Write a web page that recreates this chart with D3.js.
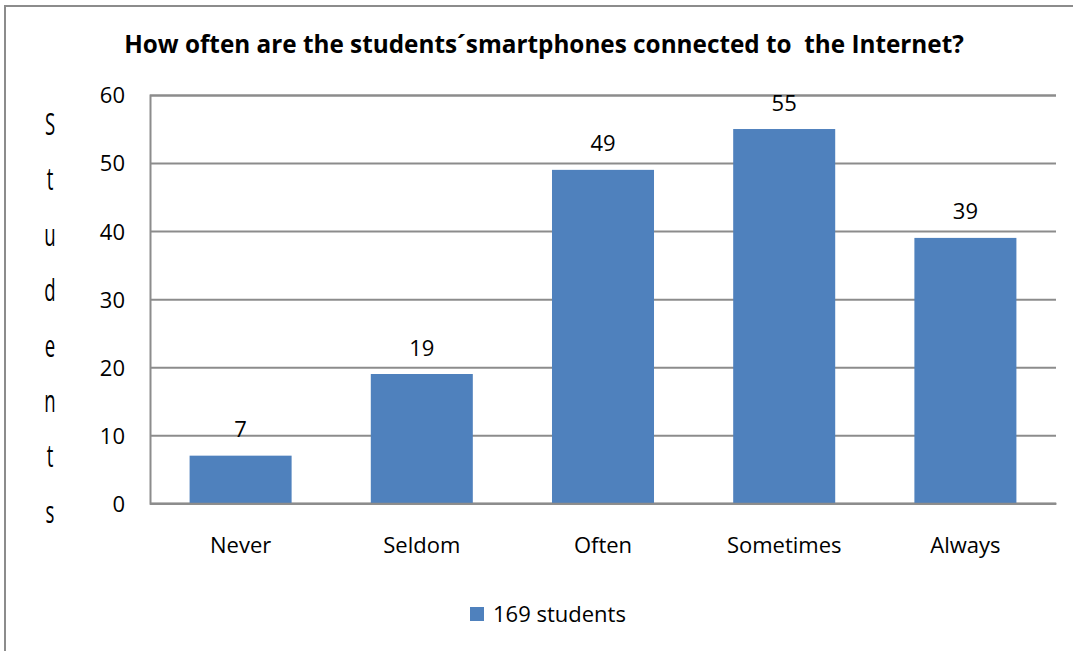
<!DOCTYPE html>
<html>
<head>
<meta charset="utf-8">
<script src="https://cdn.jsdelivr.net/npm/d3@7"></script>
<style>
  html, body { margin: 0; padding: 0; background: #fff; overflow: hidden; }
  svg { display: block; }
  text { font-family: "Open Sans", "Noto Sans", sans-serif; fill: #000; }
</style>
</head>
<body>
<svg id="chart" width="1073" height="651"></svg>
<script>
// Survey answers: how often students' phones are online
const categories = ["Never", "Seldom", "Often", "Sometimes", "Always"];
const values = [7, 19, 49, 55, 39];
const yTicks = [0, 10, 20, 30, 40, 50, 60];
const seriesName = "169 students";
const titleText = "How often are the students\u00B4smartphones connected to  the Internet?";
const yLabelLetters = ["S", "t", "u", "d", "e", "n", "t", "s"];

const svg = d3.select("#chart");
const W = 1073, H = 651;
const plot = { left: 150, right: 1056, top: 95, bottom: 503.3 };
const barColor = "#4F81BD";
const gridColor = "#8c8c8c";

// outer chart frame: only its left and top edges fall inside the view
svg.append("path")
  .attr("d", `M5,${H} V6 H${W}`)
  .attr("fill", "none")
  .attr("stroke", gridColor).attr("stroke-width", 2);

const x = d3.scaleBand()
  .domain(categories)
  .range([plot.left, plot.right])
  .paddingInner(0.437)
  .paddingOuter(0.2185);

const y = d3.scaleLinear()
  .domain([0, 60])
  .range([plot.bottom, plot.top]);

// horizontal gridlines + value axis
const yAxis = d3.axisLeft(y)
  .tickValues(yTicks)
  .tickSize(-(plot.right - plot.left))
  .tickPadding(25)
  .tickFormat(d3.format("d"));

const gy = svg.append("g")
  .attr("transform", `translate(${plot.left},0)`)
  .call(yAxis);
gy.select(".domain").attr("stroke", gridColor).attr("stroke-width", 2);
gy.selectAll(".tick line").attr("stroke", gridColor).attr("stroke-width", 2);
gy.selectAll(".tick text")
  .attr("font-size", 22)
  .attr("font-family", "Open Sans")
  .attr("fill", "#000")
  .attr("dy", "0.36em");

// bars
svg.append("g").selectAll("rect")
  .data(values)
  .join("rect")
  .attr("x", (d, i) => x(categories[i]))
  .attr("width", x.bandwidth())
  .attr("y", d => y(d))
  .attr("height", d => y(0) - y(d))
  .attr("fill", barColor);

// category axis
const xAxis = d3.axisBottom(x).tickSize(0).tickPadding(34);
const gx = svg.append("g")
  .attr("transform", `translate(0,${plot.bottom})`)
  .call(xAxis);
gx.select(".domain").attr("stroke", gridColor).attr("stroke-width", 2);
gx.selectAll(".tick text")
  .attr("font-size", 22)
  .attr("font-family", "Open Sans")
  .attr("fill", "#000");

// value labels above bars
svg.append("g").selectAll("text")
  .data(values)
  .join("text")
  .attr("x", (d, i) => x(categories[i]) + x.bandwidth() / 2)
  .attr("y", d => y(d) - 18.5)
  .attr("text-anchor", "middle")
  .attr("font-size", 22)
  .text(d => d);

// title, sized to span its line
const title = svg.append("text")
  .attr("x", 544).attr("y", 53)
  .attr("text-anchor", "middle")
  .attr("font-weight", "bold")
  .attr("font-size", 22)
  .style("white-space", "pre")
  .text(titleText);
const tw = title.node().getComputedTextLength();
title.attr("font-size", 22 * 840 / tw);

// stacked vertical axis title
svg.append("g").selectAll("text")
  .data(yLabelLetters)
  .join("text")
  .attr("transform", (d, i) => `translate(50,${135 + i * 55.4}) scale(0.6,1)`)
  .attr("text-anchor", "middle")
  .attr("font-family", "DejaVu Sans")
  .attr("font-size", 31)
  .attr("fill", "#2a2a2a")
  .text(d => d);

// legend
const legend = svg.append("g").attr("transform", "translate(470,607)");
legend.append("rect")
  .attr("width", 14).attr("height", 14)
  .attr("fill", barColor);
legend.append("text")
  .attr("x", 23).attr("y", 14.7)
  .attr("font-size", 22)
  .text(seriesName);
</script>
</body>
</html>
